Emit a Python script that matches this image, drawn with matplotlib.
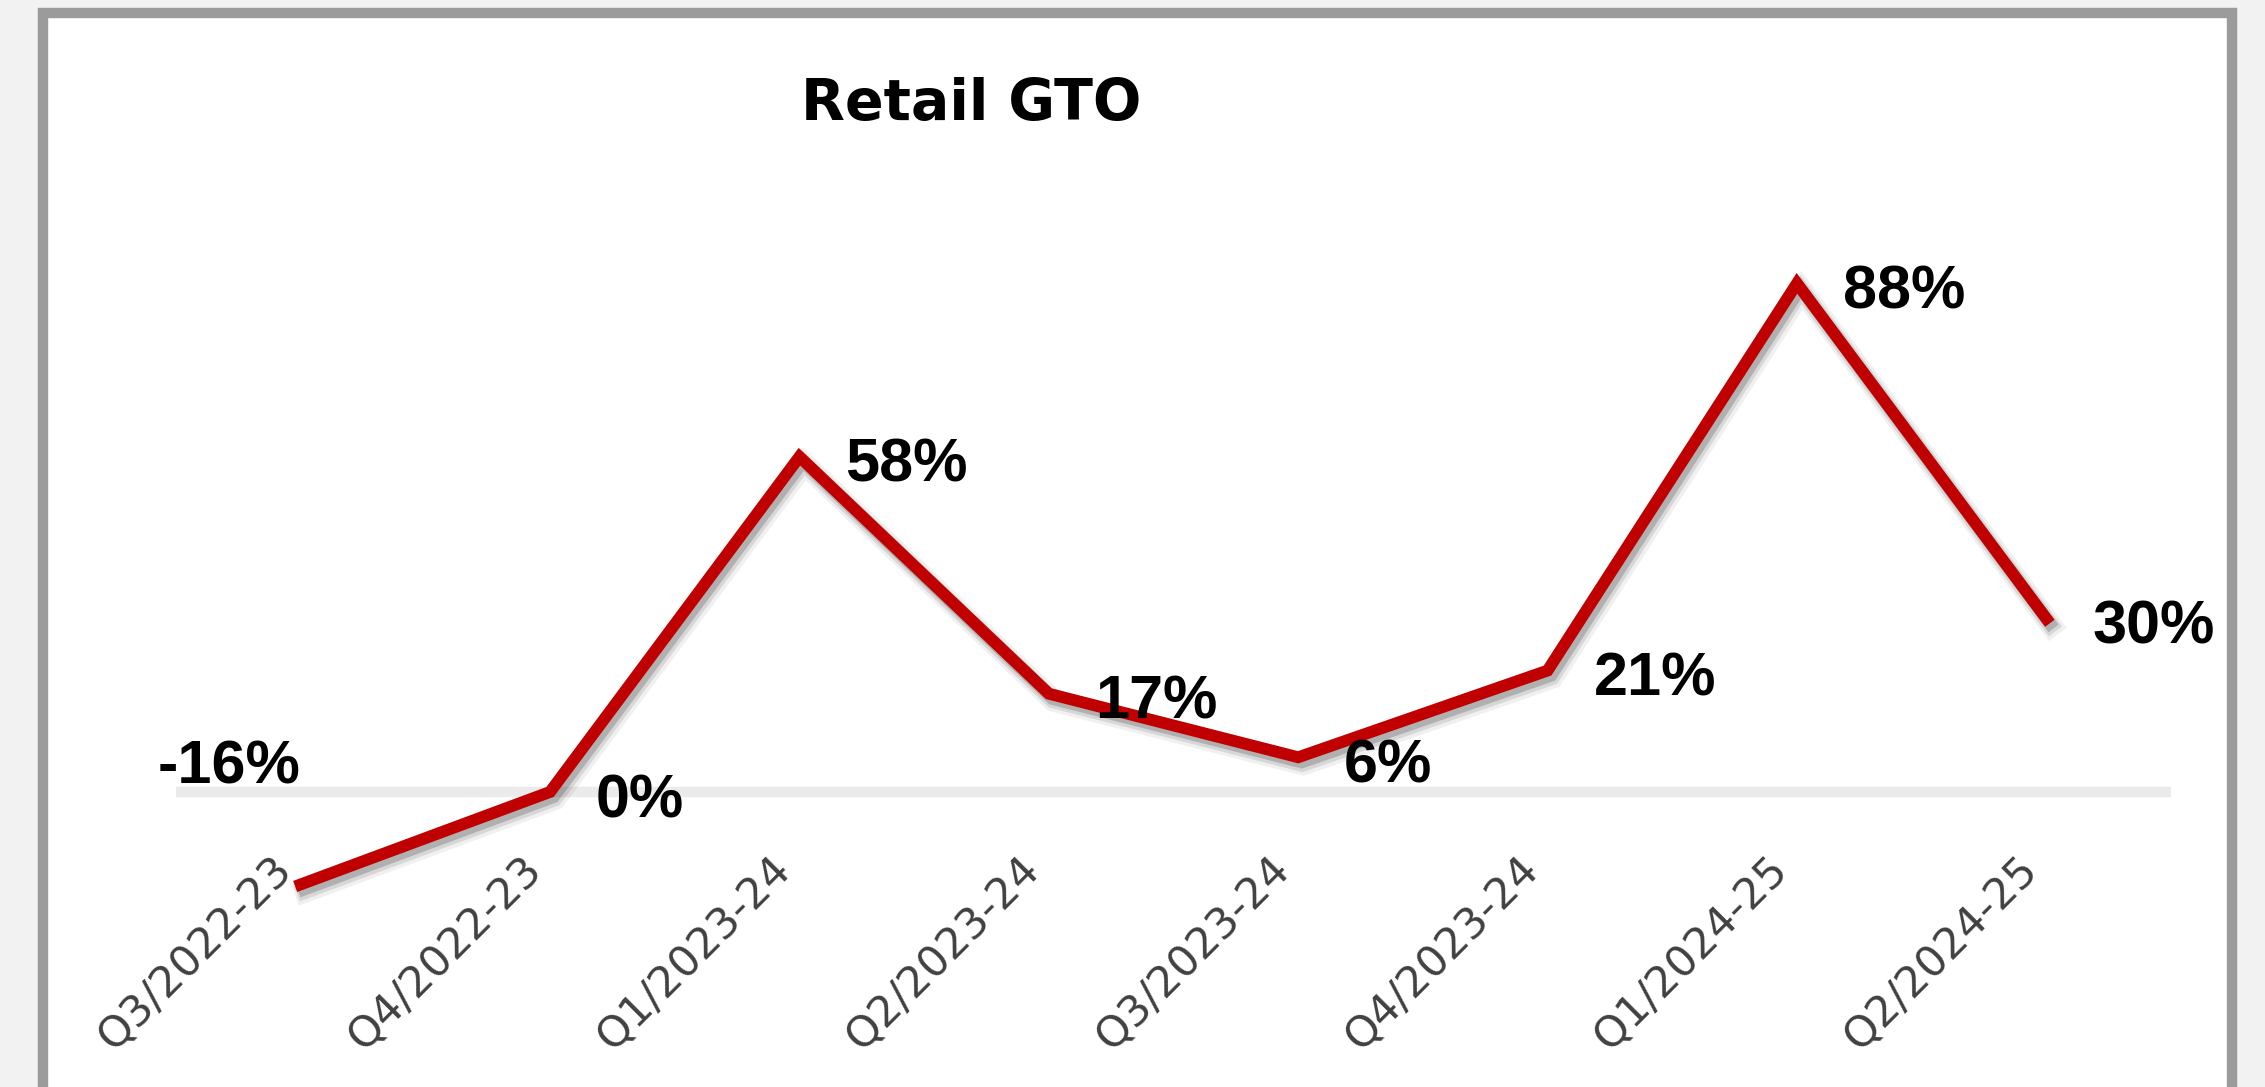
"""
Retail GTO growth, line chart with data labels
"""
import matplotlib
matplotlib.use('Agg')
import matplotlib.pyplot as plt
import matplotlib.patheffects as pe
from matplotlib.patches import Rectangle

# data
quarters = ['Q3/2022-23', 'Q4/2022-23', 'Q1/2023-24', 'Q2/2023-24',
            'Q3/2023-24', 'Q4/2023-24', 'Q1/2024-25', 'Q2/2024-25']
gto_growth = [-16, 0, 58, 17, 6, 21, 88, 30]
value_labels = ['-16%', '0%', '58%', '17%', '6%', '21%', '88%', '30%']

fig = plt.figure(figsize=(22.65, 10.87), dpi=100, facecolor='#f2f2f2')

# white chart box with grey frame (bottom runs off the picture)
frame = Rectangle((42.5 / 2265, -0.05), (2232 - 42.5) / 2265, 1.05 - 13 / 1087,
                  transform=fig.transFigure, facecolor='white', edgecolor='#9b9b9b',
                  linewidth=7.5, zorder=-10)
fig.add_artist(frame)

ax = fig.add_axes([176 / 2265, 1 - 848 / 1087, 1995 / 2265, (848 - 214) / 1087])
ax.set_facecolor('none')
ax.set_zorder(1)
pos = list(range(len(quarters)))

# zero line
ax.axhline(0, color='#ebebeb', linewidth=7.5, zorder=1)

# soft drop shadow under the line
shadow = [pe.SimpleLineShadow(offset=(3.5, -5), shadow_color='black', alpha=0.06, linewidth=16),
          pe.SimpleLineShadow(offset=(3, -4.5), shadow_color='black', alpha=0.10, linewidth=12),
          pe.SimpleLineShadow(offset=(2.5, -3.5), shadow_color='black', alpha=0.18, linewidth=9),
          pe.Normal()]
ax.plot(pos, gto_growth, color='#c00000', linewidth=8.5, solid_joinstyle='miter',
        clip_on=False, zorder=3, path_effects=shadow)

# data labels, to the right of each point (first one sits up-left)
for i, (v, lab) in enumerate(zip(gto_growth, value_labels)):
    if i == 0:
        ax.annotate(lab, (i, v), xytext=(0, 84), textcoords='offset points',
                    ha='right', va='center', fontsize=44, fontweight='bold',
                    family='Liberation Sans', color='black', zorder=4,
                    annotation_clip=False)
    else:
        ax.annotate(lab, (i, v), xytext=(33, -7), textcoords='offset points',
                    ha='left', va='center', fontsize=44, fontweight='bold',
                    family='Liberation Sans', color='black', zorder=4,
                    annotation_clip=False)

ax.set_xlim(-0.5, len(quarters) - 0.5)
ax.set_ylim(-9.7, 100)
ax.set_xticks(pos)
ax.set_xticklabels(quarters, rotation=45, ha='right', va='top', fontsize=31,
                   family='DejaVu Sans', color='#404040')
ax.tick_params(axis='x', length=0, pad=0)
ax.set_yticks([])
for s in ax.spines.values():
    s.set_visible(False)

fig.text(971 / 2265, 1 - 105 / 1087, 'Retail GTO', ha='center', va='center',
         fontsize=41, fontweight='bold', family='DejaVu Sans', color='black')

fig.savefig('out.png', dpi=100, facecolor=fig.get_facecolor())
